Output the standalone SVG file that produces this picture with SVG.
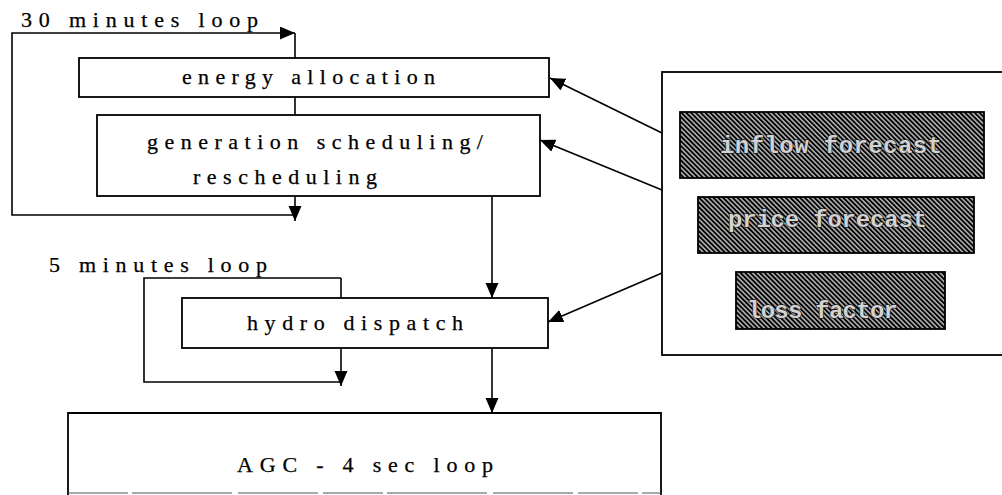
<svg xmlns="http://www.w3.org/2000/svg" width="1002" height="495" viewBox="0 0 1002 495">
<style>
.box{fill:#fff;stroke:#000;stroke-width:1.8}
.hbox{fill:url(#hatch);stroke:#000;stroke-width:1.8}
.lbl{font-family:"Liberation Serif",serif;font-size:22px;fill:#000;stroke:#000;stroke-width:0.25}
.hl{font-family:"Liberation Mono",monospace;font-size:24px;font-weight:bold;fill:#d2d2d2;stroke:#1a1a1a;stroke-width:1.4;paint-order:stroke}
.c{fill:none;stroke:#000;stroke-width:1.6}
</style>
<defs>
<pattern id="hatch" patternUnits="userSpaceOnUse" width="3.4" height="3.4" patternTransform="rotate(-45)">
<rect width="3.4" height="3.4" fill="#b0b0b0"/>
<line x1="0.9" y1="0" x2="0.9" y2="3.4" stroke="#000" stroke-width="1.8"/>
</pattern>
<marker id="ah" markerUnits="userSpaceOnUse" markerWidth="16" markerHeight="14" refX="15" refY="6.5" orient="auto">
<path d="M0,0 L15,6.5 L0,13 Z" fill="#000"/>
</marker>
</defs>
<g id="connectors">
<line class="c" x1="295" y1="33" x2="295" y2="58"/>
<line class="c" x1="295" y1="97" x2="295" y2="115"/>
<line class="c" x1="295" y1="196" x2="295" y2="221" marker-end="url(#ah)"/>
<polyline class="c" points="295,215 12,215 12,33 295,33" marker-end="url(#ah)"/>
<line class="c" x1="341" y1="278" x2="341" y2="298"/>
<line class="c" x1="341" y1="348" x2="341" y2="386" marker-end="url(#ah)"/>
<polyline class="c" points="341,382 144,382 144,278 341,278"/>
<line class="c" x1="492" y1="196" x2="492" y2="298" marker-end="url(#ah)"/>
<line class="c" x1="492" y1="348" x2="492" y2="413" marker-end="url(#ah)"/>
<line class="c" x1="662" y1="133" x2="550" y2="78" marker-end="url(#ah)"/>
<line class="c" x1="662" y1="190" x2="540" y2="140" marker-end="url(#ah)"/>
<line class="c" x1="662" y1="273" x2="548" y2="322" marker-end="url(#ah)"/>
</g>
<g id="label-30min">
<text class="lbl" x="21" y="27" textLength="237" lengthAdjust="spacing">30 minutes loop</text>
</g>
<g id="energy-allocation">
<rect class="box" x="79" y="58" width="470" height="39"/>
<text class="lbl" x="182" y="84" textLength="253" lengthAdjust="spacing">energy allocation</text>
</g>
<g id="generation-scheduling">
<rect class="box" x="97" y="115" width="443" height="81"/>
<text class="lbl" x="147" y="149" textLength="336" lengthAdjust="spacing">generation scheduling/</text>
<text class="lbl" x="193" y="184" textLength="184" lengthAdjust="spacing">rescheduling</text>
</g>
<g id="label-5min">
<text class="lbl" x="49" y="272" textLength="218" lengthAdjust="spacing">5 minutes loop</text>
</g>
<g id="hydro-dispatch">
<rect class="box" x="182" y="298" width="366" height="50"/>
<text class="lbl" x="247" y="330" textLength="216" lengthAdjust="spacing">hydro dispatch</text>
</g>
<g id="agc">
<path class="box" d="M68,495 V413 H661 V495"/>
<line x1="68" y1="493" x2="661" y2="493" stroke="#555" stroke-width="1.2" stroke-dasharray="60,4,100,6,80,5"/>
<text class="lbl" x="237" y="472" textLength="256" lengthAdjust="spacing">AGC - 4 sec loop</text>
</g>
<g id="inputs">
<rect class="box" x="662" y="72" width="350" height="283"/>
</g>
<g id="inflow-forecast">
<rect class="hbox" x="680" y="112" width="304" height="66"/>
<text class="hl" x="720" y="153" textLength="222" lengthAdjust="spacing">inflow forecast</text>
</g>
<g id="price-forecast">
<rect class="hbox" x="698" y="197" width="276" height="56"/>
<text class="hl" x="728" y="227" textLength="199" lengthAdjust="spacing">price forecast</text>
</g>
<g id="loss-factor">
<rect class="hbox" x="736" y="272" width="209" height="57"/>
<text class="hl" x="747" y="318" textLength="151" lengthAdjust="spacing">loss factor</text>
</g>
</svg>
